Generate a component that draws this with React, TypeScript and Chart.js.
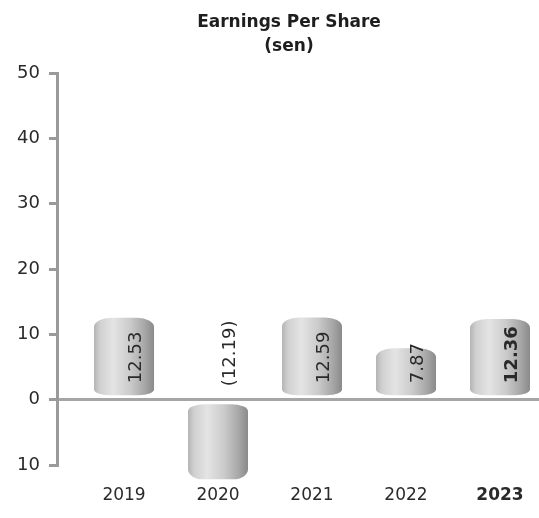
import React, { useEffect, useRef } from "react";
import { Chart, registerables } from "chart.js";

Chart.register(...registerables);

const years = ["2019", "2020", "2021", "2022", "2023"];
const eps = [12.53, -12.19, 12.59, 7.87, 12.36];
const valueLabels = ["12.53", "(12.19)", "12.59", "7.87", "12.36"];
const boldIndex = 4;
const titleLines = ["Earnings Per Share", "(sen)"];

const FONT = "'DejaVu Sans', sans-serif";

const cylinderPlugin = {
  id: "cylinders",
  afterDatasetsDraw(chart: any) {
    const ctx = chart.ctx;
    const meta = chart.getDatasetMeta(0);
    meta.data.forEach((bar: any, i: number) => {
      const { x, y, base, width } = bar.getProps(["x", "y", "base", "width"], true);
      const left = x - width / 2;
      const right = x + width / 2;
      const neg = eps[i] < 0;
      const top = neg ? base + 3 : y;
      const bottom = neg ? y : base - 3;
      const rxT = 17, ryT = 9, rxB = 15, ryB = neg ? 10 : 6;
      const ryTop = neg ? 7 : ryT;
      ctx.save();
      ctx.beginPath();
      ctx.moveTo(left, top + ryTop);
      ctx.ellipse(left + rxT, top + ryTop, rxT, ryTop, 0, Math.PI, 1.5 * Math.PI);
      ctx.lineTo(right - rxT, top);
      ctx.ellipse(right - rxT, top + ryTop, rxT, ryTop, 0, 1.5 * Math.PI, 2 * Math.PI);
      ctx.lineTo(right, bottom - ryB);
      ctx.ellipse(right - rxB, bottom - ryB, rxB, ryB, 0, 0, 0.5 * Math.PI);
      ctx.lineTo(left + rxB, bottom);
      ctx.ellipse(left + rxB, bottom - ryB, rxB, ryB, 0, 0.5 * Math.PI, Math.PI);
      ctx.closePath();
      const g = ctx.createLinearGradient(left, 0, right, 0);
      g.addColorStop(0, "#b4b4b4");
      g.addColorStop(0.1, "#d0d0d0");
      g.addColorStop(0.32, "#e4e4e4");
      g.addColorStop(0.6, "#cbcbcb");
      g.addColorStop(0.85, "#a6a6a6");
      g.addColorStop(1, "#8a8a8a");
      ctx.fillStyle = g;
      ctx.fill();
      ctx.restore();

      ctx.save();
      ctx.translate(x + 12, base - 15);
      ctx.rotate(-Math.PI / 2);
      ctx.font = (i === boldIndex ? "bold " : "") + "18px " + FONT;
      ctx.fillStyle = "#2a2a2a";
      ctx.textAlign = "left";
      ctx.textBaseline = "middle";
      ctx.fillText(valueLabels[i], 0, 0);
      ctx.restore();
    });
  },
};

const titlePlugin = {
  id: "titleText",
  afterDraw(chart: any) {
    const ctx = chart.ctx;
    ctx.save();
    ctx.font = "bold 17px " + FONT;
    ctx.fillStyle = "#1e1e1e";
    ctx.textAlign = "center";
    ctx.textBaseline = "middle";
    ctx.fillText(titleLines[0], 289, 23);
    ctx.fillText(titleLines[1], 289, 47);
    ctx.restore();
  },
};

export default function App() {
  const ref = useRef<HTMLCanvasElement>(null);
  useEffect(() => {
    document.body.style.margin = "0";
    const chart = new Chart(ref.current!, {
      type: "bar",
      data: {
        datasets: [
          {
            data: eps.map((v, i) => ({ x: i, y: v })),
            backgroundColor: "transparent",
            borderWidth: 0,
            barThickness: 60,
          },
        ],
      },
      options: {
        animation: false,
        responsive: false,
        layout: { padding: { top: 73, right: 0, left: 0, bottom: 0 } },
        plugins: { legend: { display: false }, tooltip: { enabled: false }, title: { display: false } },
        scales: {
          x: {
            type: "linear",
            offset: false,
            min: -0.713,
            max: 4.415,
            afterBuildTicks: (s: any) => {
              s.ticks = years.map((_, i) => ({ value: i }));
            },
            afterFit: (s: any) => {
              s.height = 53;
            },
            grid: { display: false },
            border: { display: false },
            ticks: {
              padding: 12,
              color: "#2a2a2a",
              font: (c: any) => ({
                family: FONT,
                size: 17,
                weight: c.tick && c.tick.value === boldIndex ? "bold" : "normal",
              }),
              callback: (v: any) => years[v as number] ?? "",
            },
          },
          y: {
            min: -10,
            max: 50,
            afterFit: (s: any) => {
              s.width = 57;
            },
            ticks: {
              stepSize: 10,
              padding: 9,
              color: "#2a2a2a",
              font: { family: FONT, size: 18 },
              callback: (v: any) => String(Math.abs(v as number)),
            },
            grid: {
              drawOnChartArea: true,
              color: (c: any) => (c.tick && c.tick.value === 0 ? "#a6a6a6" : "transparent"),
              lineWidth: 3,
              tickLength: 8,
              tickColor: "#9a9a9a",
              tickWidth: 3,
            },
            border: { display: true, color: "#9a9a9a", width: 3 },
          },
        },
      },
      plugins: [cylinderPlugin, titlePlugin],
    });
    return () => chart.destroy();
  }, []);
  return (
    <div style={{ width: 539, height: 518 }}>
      <canvas ref={ref} width={539} height={518} />
    </div>
  );
}
